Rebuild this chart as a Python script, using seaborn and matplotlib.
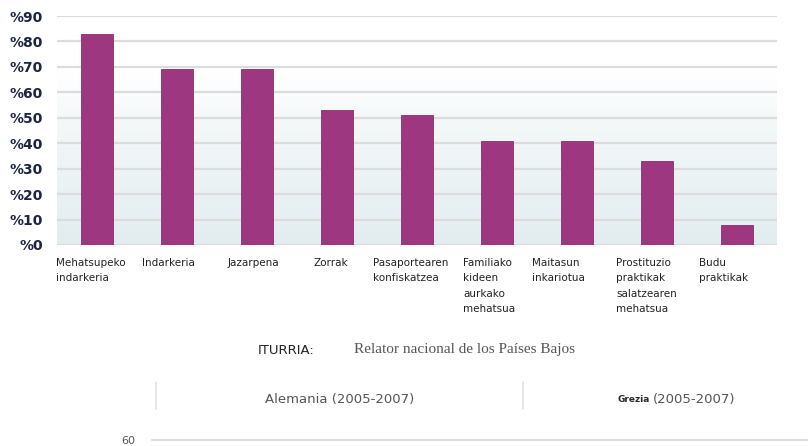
import numpy as np
import matplotlib
matplotlib.use("Agg")
import matplotlib.pyplot as plt
import matplotlib.transforms as mtransforms
from matplotlib.colors import LinearSegmentedColormap
import seaborn as sns

# data
categories = [
    "Mehatsupeko\nindarkeria",
    "Indarkeria",
    "Jazarpena",
    "Zorrak",
    "Pasaportearen\nkonfiskatzea",
    "Familiako\nkideen\naurkako\nmehatsua",
    "Maitasun\ninkariotua",
    "Prostituzio\npraktikak\nsalatzearen\nmehatsua",
    "Budu\npraktikak",
]
values = [83, 69, 69, 53, 51, 41, 41, 33, 8]
y_ticks = [0, 10, 20, 30, 40, 50, 60, 70, 80, 90]
y_tick_labels = ["%" + str(t) for t in y_ticks]

source_label = "ITURRIA:"
source_text = "Relator nacional de los Países Bajos"
panel_titles = ["Alemania (2005-2007)", "(2005-2007)"]
panel_country_2 = "Grezia"
lower_tick = 60

# small per-label nudges (px) so the labels sit like in the original
label_nudge_px = [-41, -35, -29, -23, -44, -34, -45, -41, -38]

sns.set_theme(style="white")
plt.rcParams["font.family"] = ["DejaVu Sans"]

W, H = 808, 446
fig = plt.figure(figsize=(W / 100, H / 100), dpi=100)
fig.patch.set_facecolor("white")

# main bar chart
ax = fig.add_axes([57 / W, 1 - 245 / H, 720 / W, 229 / H])
ax.set_xlim(-0.5, len(categories) - 0.5)
ax.set_ylim(0, 90)

# soft white -> pale blue background
grad = np.linspace(0, 1, 256).reshape(-1, 1)
cmap = LinearSegmentedColormap.from_list(
    "bg", [(0, "#e2edef"), (0.55, "#f4f8f9"), (0.75, "#ffffff"), (1, "#ffffff")])
ax.imshow(grad, aspect="auto", cmap=cmap, origin="lower",
          extent=(-0.5, len(categories) - 0.5, 0, 90), zorder=0)

for t in y_ticks:
    ax.axhline(t, color="#dcdcdc", lw=1.6, zorder=1)

sns.barplot(x=categories, y=values, color="#9d3880", width=0.4,
            saturation=1, edgecolor="#8a2c70", linewidth=0.6, ax=ax, zorder=3)

ax.set_xlim(-0.5, len(categories) - 0.5)
ax.set_ylim(0, 90)
ax.set_xlabel("")
ax.set_ylabel("")
for s in ax.spines.values():
    s.set_visible(False)

ax.set_yticks(y_ticks)
ax.set_yticklabels(y_tick_labels, fontsize=10, fontweight="bold", color="#1c2540")
ax.tick_params(axis="y", length=0, pad=10)

ax.set_xticks(range(len(categories)))
ax.set_xticklabels(categories, fontsize=7.5, color="#222222", ha="left",
                   va="top", linespacing=1.7)
ax.tick_params(axis="x", length=0, pad=9)
for lab, dx in zip(ax.get_xticklabels(), label_nudge_px):
    lab.set_transform(lab.get_transform() +
                      mtransforms.ScaledTranslation(dx / 100, 0, fig.dpi_scale_trans))

# source line
fig.text(258 / W, 1 - 350 / H, source_label, fontsize=9.5, color="#222222",
         ha="left", va="center")
fig.text(354 / W, 1 - 350 / H, source_text, fontsize=11, color="#555555",
         family=["Liberation Serif", "DejaVu Serif"], ha="left", va="center")

# header of the next panel
for xp in (156, 523):
    fig.add_artist(plt.Line2D([xp / W, xp / W], [1 - 382 / H, 1 - 409 / H],
                              color="#e2e2e2", lw=1.2))
fig.text(340 / W, 1 - 399 / H, panel_titles[0], fontsize=9.5, color="#555555",
         ha="center", va="center")
fig.text(650 / W, 1 - 400 / H, panel_country_2, fontsize=6.5, fontweight="bold",
         color="#2a2a2a", ha="right", va="center")
fig.text(653 / W, 1 - 400 / H, panel_titles[1], fontsize=9.5, color="#555555",
         ha="left", va="center")

# top of the next chart (only its 60 gridline is visible)
ax2 = fig.add_axes([152 / W, 0, (W - 152) / W, 6 / H])
ax2.set_ylim(55, lower_tick)
ax2.set_xlim(0, 1)
ax2.axhline(lower_tick, color="#dddddd", lw=1.6, clip_on=False)
ax2.set_yticks([lower_tick])
ax2.set_yticklabels([str(lower_tick)], fontsize=8, color="#555555")
ax2.tick_params(axis="y", length=0, pad=12)
ax2.set_xticks([])
ax2.set_facecolor("none")
for s in ax2.spines.values():
    s.set_visible(False)

fig.savefig("out.png", dpi=100)
